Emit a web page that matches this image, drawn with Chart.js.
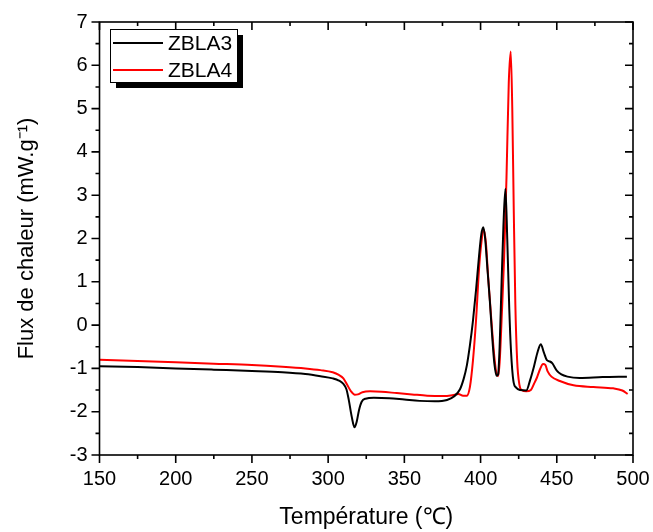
<!DOCTYPE html>
<html>
<head>
<meta charset="utf-8">
<script src="https://cdn.jsdelivr.net/npm/chart.js@4"></script>
<style>
  html, body { margin: 0; padding: 0; background: #fff; }
  #wrap { width: 653px; height: 532px; }
</style>
</head>
<body>
<div id="wrap"><canvas id="myChart" width="653" height="532"></canvas></div>
<script>
// DSC curves
const tempZBLA3 = [150, 175, 200, 225, 250, 270, 285, 295, 303, 307, 310, 312, 313.5, 315.5, 317.3, 318.8, 320.2, 322, 324.5, 330, 340, 350, 360, 370, 378, 382.5, 386.5, 389, 391, 393, 395, 397, 399, 400.5, 401.8, 403, 404.5, 406, 407.5, 409, 410.5, 411.5, 412.5, 413.8, 415, 416.3, 417.5, 418.8, 420, 421.5, 423.5, 426, 430, 432.5, 435, 437.5, 439.5, 441.5, 443.5, 445.5, 447, 450, 453, 457, 465, 480, 496];
const fluxZBLA3 = [-0.95, -0.97, -1.0, -1.03, -1.06, -1.09, -1.13, -1.18, -1.23, -1.28, -1.36, -1.48, -1.72, -2.12, -2.36, -2.22, -1.97, -1.77, -1.7, -1.68, -1.69, -1.72, -1.75, -1.76, -1.73, -1.65, -1.48, -1.23, -0.93, -0.47, 0.1, 0.8, 1.6, 2.1, 2.26, 2.0, 1.3, 0.6, -0.2, -0.87, -1.17, -1.14, -0.5, 1.0, 2.3, 3.15, 2.0, 0.4, -0.62, -1.28, -1.45, -1.5, -1.51, -1.27, -0.96, -0.61, -0.44, -0.63, -0.81, -0.84, -0.88, -1.05, -1.14, -1.19, -1.22, -1.2, -1.19];

const tempZBLA4 = [150, 175, 200, 225, 250, 270, 285, 295, 303, 307, 310, 312.5, 315, 317.5, 319.5, 322.5, 327.5, 335, 345, 355, 365, 375, 381.5, 385.5, 388.5, 391, 393, 395, 397, 399, 400.5, 402, 403.5, 405, 407, 409, 410.5, 411.5, 412.5, 414, 415.5, 417, 418.5, 419.8, 420.8, 421.8, 422.8, 424, 425.5, 427, 430, 433, 435, 437, 439, 441, 442.5, 444, 446.5, 452, 461, 474, 487, 493, 496.5];
const fluxZBLA4 = [-0.8, -0.83, -0.86, -0.89, -0.92, -0.96, -1.0, -1.04, -1.09, -1.15, -1.23, -1.38, -1.53, -1.61, -1.6, -1.55, -1.53, -1.54, -1.57, -1.6, -1.63, -1.64, -1.62, -1.59, -1.63, -1.63, -1.43, -0.82, 0.1, 1.3, 1.9, 2.21, 1.9, 1.1, 0.15, -0.72, -1.13, -1.18, -0.87, 0.3, 1.6, 3.4, 5.6, 6.32, 5.0, 2.6, 0.5, -0.82, -1.38, -1.5, -1.53, -1.5, -1.36, -1.21, -1.02, -0.9, -0.92, -1.07, -1.19, -1.29, -1.39, -1.43, -1.46, -1.51, -1.59];

const xMin = 150, xMax = 500, xMajor = 50, xMinor = 25;
const yMin = -3, yMax = 7, yMajor = 1, yMinor = 0.5;

function toPoints(xs, ys) {
    return xs.map((t, i) => ({ x: t, y: ys[i] }));
}

// Origin-style frame with major/minor ticks on all four sides
const framePlugin = {
    id: 'frame',
    afterDraw(chart) {
        const { ctx, chartArea: a, scales: { x, y } } = chart;
        ctx.save();
        ctx.strokeStyle = '#000';
        ctx.lineWidth = 1.6;
        ctx.strokeRect(a.left, a.top, a.right - a.left, a.bottom - a.top);
        ctx.beginPath();
        for (let v = xMin; v <= xMax + 1e-6; v += xMinor) {
            const px = x.getPixelForValue(v);
            const len = (v - xMin) % xMajor === 0 ? 8 : 4;
            ctx.moveTo(px, a.bottom); ctx.lineTo(px, a.bottom + len);
            ctx.moveTo(px, a.top); ctx.lineTo(px, a.top + len);
        }
        for (let v = yMin; v <= yMax + 1e-6; v += yMinor) {
            const py = y.getPixelForValue(v);
            const len = Math.abs(v - Math.round(v)) < 1e-6 ? 8 : 4;
            ctx.moveTo(a.left, py); ctx.lineTo(a.left - len, py);
            ctx.moveTo(a.right, py); ctx.lineTo(a.right - len, py);
        }
        ctx.stroke();

        // legend box with drop shadow
        const bx = 110, by = 29, bw = 127, bh = 53;
        ctx.fillStyle = '#000';
        ctx.fillRect(bx + 6, by + 6, bw, bh);
        ctx.fillStyle = '#fff';
        ctx.fillRect(bx, by, bw, bh);
        ctx.lineWidth = 1;
        ctx.strokeStyle = '#000';
        ctx.strokeRect(bx + 0.5, by + 0.5, bw, bh);
        ctx.font = '21px "Liberation Sans", Arial, sans-serif';
        ctx.textBaseline = 'middle';
        chart.data.datasets.forEach((ds, i) => {
            const ly = by + 14 + i * 27;
            ctx.strokeStyle = ds.borderColor;
            ctx.lineWidth = 2;
            ctx.beginPath();
            ctx.moveTo(bx + 3, ly); ctx.lineTo(bx + 53, ly);
            ctx.stroke();
            ctx.fillStyle = '#000';
            ctx.fillText(ds.label, bx + 58, ly + 1);
        });
        ctx.restore();
    }
};

const ctx = document.getElementById('myChart').getContext('2d');
new Chart(ctx, {
    type: 'line',
    data: {
        datasets: [
            {
                label: 'ZBLA3',
                data: toPoints(tempZBLA3, fluxZBLA3),
                borderColor: '#000000',
                borderWidth: 2,
                pointRadius: 0,
                cubicInterpolationMode: 'monotone',
                fill: false
            },
            {
                label: 'ZBLA4',
                data: toPoints(tempZBLA4, fluxZBLA4),
                borderColor: '#ff0000',
                borderWidth: 2,
                pointRadius: 0,
                cubicInterpolationMode: 'monotone',
                fill: false
            }
        ]
    },
    options: {
        responsive: false,
        animation: false,
        layout: { padding: { top: 22, right: 20, left: 0, bottom: 0 } },
        plugins: {
            legend: { display: false },
            tooltip: { enabled: false }
        },
        scales: {
            x: {
                type: 'linear',
                min: xMin,
                max: xMax,
                grid: { display: false, drawTicks: true, tickLength: 10 },
                border: { display: false },
                ticks: {
                    stepSize: xMajor,
                    padding: 2,
                    color: '#000',
                    font: { family: '"Liberation Sans", Arial, sans-serif', size: 20 }
                },
                title: {
                    display: true,
                    text: 'Température (℃)',
                    color: '#000',
                    padding: { top: 0, bottom: 1 },
                    font: { family: '"Liberation Sans", Arial, sans-serif', size: 23 }
                },
                afterFit: (scale) => { scale.height = 77; }
            },
            y: {
                type: 'linear',
                min: yMin,
                max: yMax,
                grid: { display: false, drawTicks: true, tickLength: 9 },
                border: { display: false },
                ticks: {
                    stepSize: yMajor,
                    padding: 3,
                    color: '#000',
                    font: { family: '"Liberation Sans", Arial, sans-serif', size: 20 }
                },
                title: {
                    display: true,
                    text: 'Flux de chaleur (mW.g⁻¹)',
                    color: '#000',
                    padding: { top: 14, bottom: 0 },
                    font: { family: '"Liberation Sans", Arial, sans-serif', size: 22 }
                },
                afterFit: (scale) => { scale.width = 99.5; }
            }
        }
    },
    plugins: [framePlugin]
});
</script>
</body>
</html>
